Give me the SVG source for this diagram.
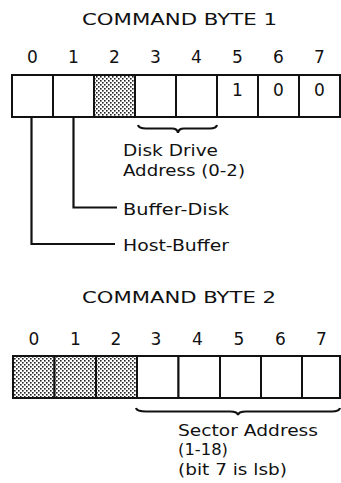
<svg xmlns="http://www.w3.org/2000/svg" width="341" height="483" viewBox="0 0 341 483">
<style>
text{font-family:"DejaVu Sans","Liberation Sans",sans-serif;fill:#111}
.title{font-size:15px}
.bit{font-size:17px;text-anchor:middle}
.lbl{font-size:16.5px}
.cell{fill:#fff;stroke:#111;stroke-width:2}
.dot{fill:url(#stip);stroke:#111;stroke-width:2}
.con{fill:none;stroke:#111;stroke-width:2.2}
</style>
<defs>
<pattern id="stip" width="4" height="4" patternUnits="userSpaceOnUse">
<rect width="4" height="4" fill="#fff"/>
<rect x="0" y="0" width="1.6" height="1.6" fill="#222"/>
<rect x="2" y="2" width="1.6" height="1.6" fill="#222"/>
</pattern>
</defs>

<g id="byte1-title"><text class="title" x="82" y="25" textLength="195" lengthAdjust="spacingAndGlyphs">COMMAND BYTE 1</text></g>

<g id="byte1-bits">
<text class="bit" x="32.5" y="63">0</text>
<text class="bit" x="73.5" y="63">1</text>
<text class="bit" x="114.5" y="63">2</text>
<text class="bit" x="155.5" y="63">3</text>
<text class="bit" x="196.5" y="63">4</text>
<text class="bit" x="237.5" y="63">5</text>
<text class="bit" x="278.5" y="63">6</text>
<text class="bit" x="319.5" y="63">7</text>
</g>

<g id="byte1">
<rect class="cell" x="12" y="75" width="41" height="42"/>
<rect class="cell" x="53" y="75" width="41" height="42"/>
<rect class="dot" x="94" y="75" width="41" height="42"/>
<rect class="cell" x="135" y="75" width="41" height="42"/>
<rect class="cell" x="176" y="75" width="41" height="42"/>
<rect class="cell" x="217" y="75" width="41" height="42"/>
<rect class="cell" x="258" y="75" width="41" height="42"/>
<rect class="cell" x="299" y="75" width="41" height="42"/>
<text class="bit" x="237.5" y="96">1</text>
<text class="bit" x="278.5" y="96">0</text>
<text class="bit" x="319.5" y="96">0</text>
</g>

<g id="connectors">
<path class="con" d="M73.5 117 V207.5 H117"/>
<path class="con" d="M31.5 117 V244 H115"/>
<path class="con" stroke-width="1.8" d="M138 125 Q139 128.5 146 128.5 H172 Q177.5 128.5 178 133 Q178.5 128.5 184 128.5 H210 Q216 128.5 217 125"/>
<path class="con" stroke-width="1.8" d="M136 408 Q137 411.5 146 411.5 H230 Q237.5 411.5 238 415 Q238.5 411.5 246 411.5 H332 Q339 411.5 340 408"/>
</g>

<g id="disk-drive-label">
<text class="lbl" x="123" y="156" textLength="95" lengthAdjust="spacingAndGlyphs">Disk Drive</text>
<text class="lbl" x="123" y="176" textLength="122" lengthAdjust="spacingAndGlyphs">Address (0-2)</text>
</g>
<g id="buffer-disk-label"><text class="lbl" x="123" y="215" textLength="106" lengthAdjust="spacingAndGlyphs">Buffer-Disk</text></g>
<g id="host-buffer-label"><text class="lbl" x="123" y="250.5" textLength="106" lengthAdjust="spacingAndGlyphs">Host-Buffer</text></g>

<g id="byte2-title"><text class="title" x="82" y="303" textLength="194" lengthAdjust="spacingAndGlyphs">COMMAND BYTE 2</text></g>

<g id="byte2-bits">
<text class="bit" x="34" y="345">0</text>
<text class="bit" x="75.5" y="345">1</text>
<text class="bit" x="116" y="345">2</text>
<text class="bit" x="156" y="345">3</text>
<text class="bit" x="197.5" y="345">4</text>
<text class="bit" x="239" y="345">5</text>
<text class="bit" x="280.5" y="345">6</text>
<text class="bit" x="321.5" y="345">7</text>
</g>

<g id="byte2">
<rect class="dot" x="13" y="356" width="41.5" height="42"/>
<rect class="dot" x="54.5" y="356" width="41.5" height="42"/>
<rect class="dot" x="96" y="356" width="41" height="42"/>
<rect class="cell" x="137" y="356" width="41.5" height="42"/>
<rect class="cell" x="178.5" y="356" width="41.5" height="42"/>
<rect class="cell" x="220" y="356" width="41" height="42"/>
<rect class="cell" x="261" y="356" width="41" height="42"/>
<rect class="cell" x="302" y="356" width="38" height="42"/>
</g>

<g id="sector-address-label">
<text class="lbl" x="178" y="436" textLength="140" lengthAdjust="spacingAndGlyphs">Sector Address</text>
<text class="lbl" x="178" y="455" textLength="50" lengthAdjust="spacingAndGlyphs">(1-18)</text>
<text class="lbl" x="178" y="475" textLength="109" lengthAdjust="spacingAndGlyphs">(bit 7 is lsb)</text>
</g>
</svg>
